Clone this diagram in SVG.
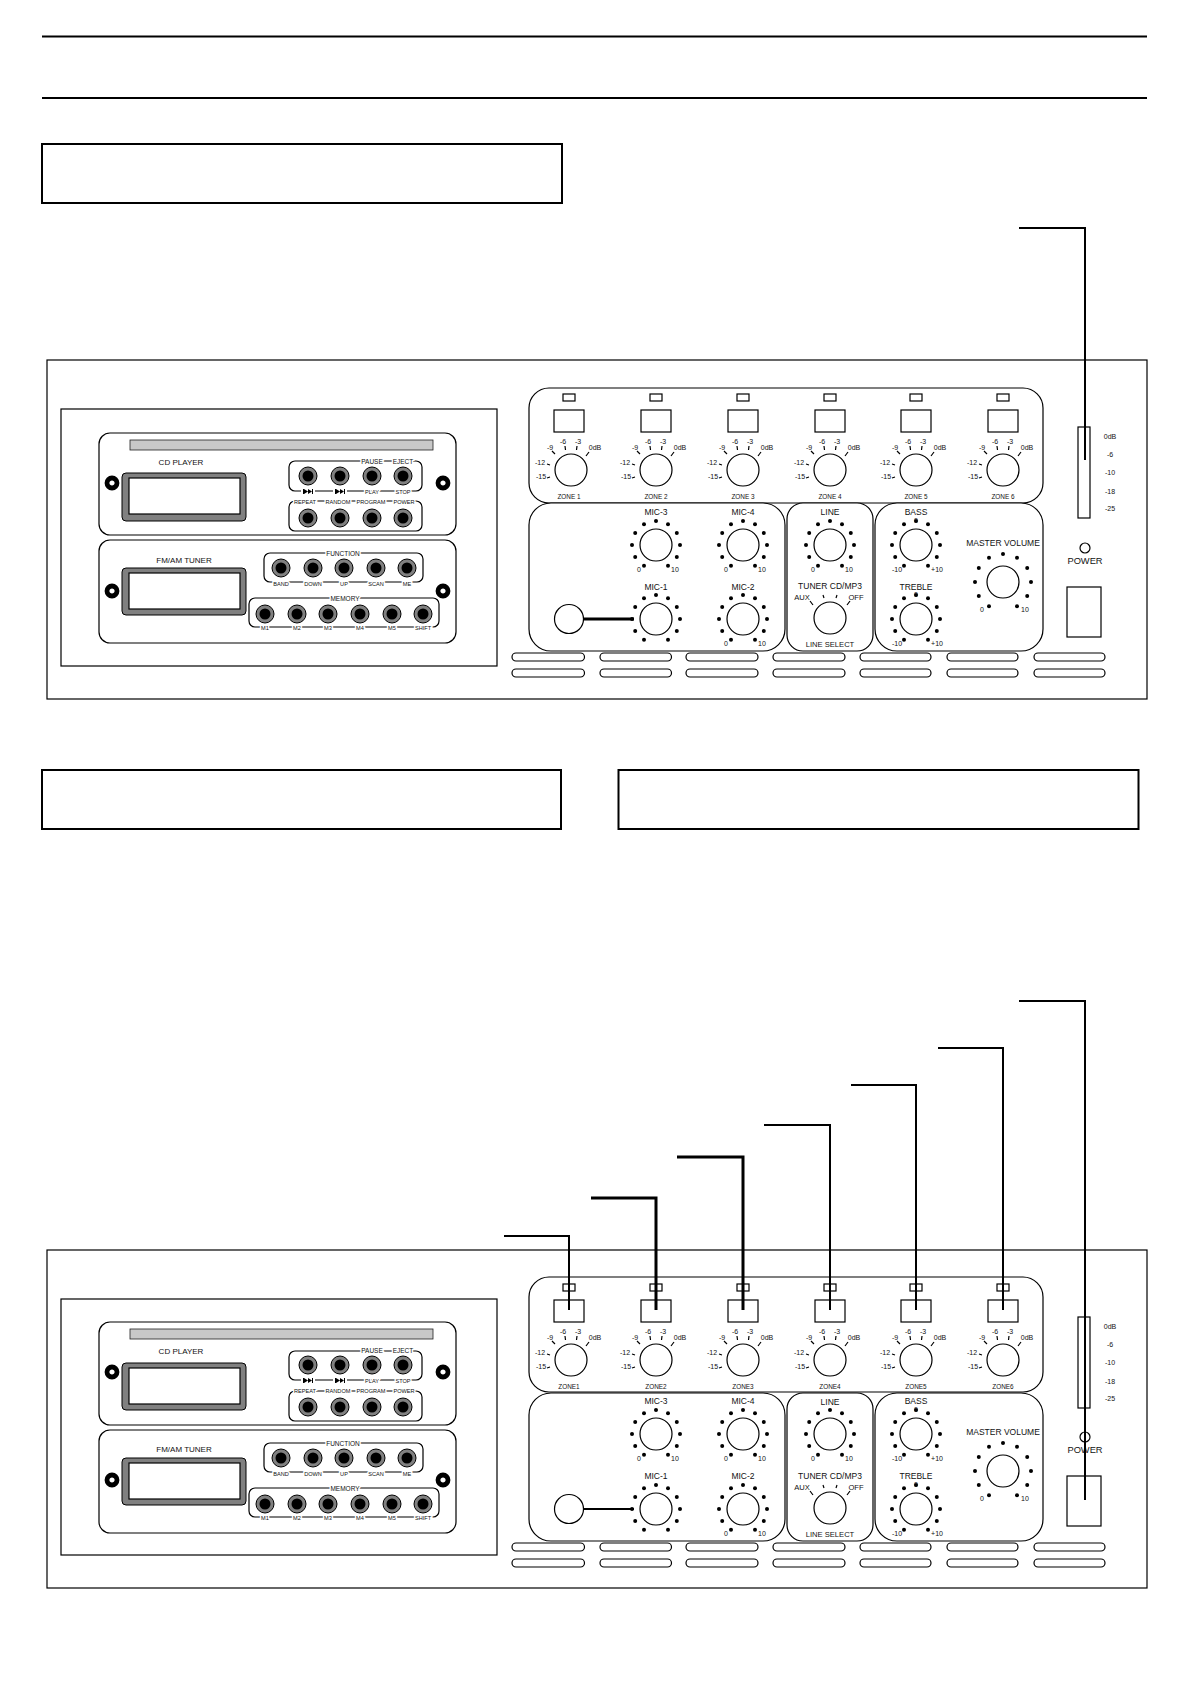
<svg xmlns="http://www.w3.org/2000/svg" width="1191" height="1685" viewBox="0 0 1191 1685">
<style>
text{font-family:"Liberation Sans",Arial,sans-serif;text-anchor:middle;fill:#111}
.o{fill:#fff;stroke:#000;stroke-width:1.2}
.n{fill:none;stroke:#000;stroke-width:1.2}
.b{fill:#fff;stroke:#000;stroke-width:2}
.l{fill:none;stroke:#000;stroke-width:2}
.th{fill:none;stroke:#000;stroke-width:3}
.z{font-size:6.4px}
.m{font-size:8.5px}
.ls{font-size:7.6px}
.s{font-size:7px}
.g{font-size:5.6px;paint-order:stroke;stroke:#fff;stroke-width:3px}
.gb{font-size:6.5px;paint-order:stroke;stroke:#fff;stroke-width:3px}
</style>
<defs>
<g id="k"><circle class="o" r="16"/></g>
<g id="zk"><circle class="o" r="16"/><path class="n" d="M-24 8l3-1M-24-6l3 1M-19-19l3 3M-6-24l.5 4M6-24l-.5 4M18-18l-3 4"/></g>
<g id="r24"><circle cx="-12" cy="20.8" r="2"/><circle cx="-20.8" cy="12" r="2"/><circle cx="-24" r="2"/><circle cx="-20.8" cy="-12" r="2"/><circle cx="-12" cy="-20.8" r="2"/><circle cy="-24" r="2"/><circle cx="12" cy="-20.8" r="2"/><circle cx="20.8" cy="-12" r="2"/><circle cx="24" r="2"/><circle cx="20.8" cy="12" r="2"/><circle cx="12" cy="20.8" r="2"/></g>
<g id="r28"><circle cx="-14" cy="24.2" r="2"/><circle cx="-24.2" cy="14" r="2"/><circle cx="-28" r="2"/><circle cx="-24.2" cy="-14" r="2"/><circle cx="-14" cy="-24.2" r="2"/><circle cy="-28" r="2"/><circle cx="14" cy="-24.2" r="2"/><circle cx="24.2" cy="-14" r="2"/><circle cx="28" r="2"/><circle cx="24.2" cy="14" r="2"/><circle cx="14" cy="24.2" r="2"/></g>
<g id="btn"><circle r="9" fill="#808080" stroke="#000"/><circle r="5.5" fill="#000"/></g>
<g id="scr"><circle r="5" fill="#fff" stroke="#000" stroke-width="4.800"/></g>
<g id="skip"><path d="M-5-2.500h1v5h-1zM-4-2.500l4 2.500-4 2.500zM0-2.500l4 2.500-4 2.500zM4-2.500h1v5h-1z"/></g>
<g id="vents"><rect class="o" x="512" y="653" width="72.5" height="8" rx="4"/><rect class="o" x="600" y="653" width="71.5" height="8" rx="4"/><rect class="o" x="686" y="653" width="72" height="8" rx="4"/><rect class="o" x="773" y="653" width="72" height="8" rx="4"/><rect class="o" x="860" y="653" width="71" height="8" rx="4"/><rect class="o" x="947" y="653" width="71" height="8" rx="4"/><rect class="o" x="1034" y="653" width="71" height="8" rx="4"/><rect class="o" x="512" y="669" width="72.5" height="8" rx="4"/><rect class="o" x="600" y="669" width="71.5" height="8" rx="4"/><rect class="o" x="686" y="669" width="72" height="8" rx="4"/><rect class="o" x="773" y="669" width="72" height="8" rx="4"/><rect class="o" x="860" y="669" width="71" height="8" rx="4"/><rect class="o" x="947" y="669" width="71" height="8" rx="4"/><rect class="o" x="1034" y="669" width="71" height="8" rx="4"/></g>
</defs>

<g id="rules"><path class="l" d="M42 36.500H1147M42 98H1147"/></g>
<g id="box1"><rect class="b" x="42" y="144" width="520" height="59"/></g>
<g id="box2"><rect class="b" x="42" y="770" width="519" height="59"/></g>
<g id="box3"><rect class="b" x="618.500" y="770" width="520" height="59"/></g>

<g id="panel-top">
<rect class="o" x="47" y="360" width="1100" height="339"/>
<rect class="o" x="61" y="409" width="436" height="257"/>
<g id="cd-player">
<rect class="o" x="99" y="433" width="357" height="102" rx="11"/>
<rect x="130" y="440" width="303" height="10" fill="#c8c8c8" stroke="#222" stroke-width=".8"/>
<text x="181" y="465" font-size="8">CD PLAYER</text>
<rect x="122" y="473" width="124" height="48" rx="4" fill="#808080" stroke="#000"/><rect class="o" x="129" y="478" width="111" height="36"/>
<use href="#scr" x="112" y="483"/><use href="#scr" x="443" y="483"/>
<rect class="n" x="289" y="461" width="133" height="30" rx="6"/>
<rect class="n" x="289" y="501" width="133" height="30" rx="6"/>
<use href="#btn" x="308" y="476"/><use href="#btn" x="340" y="476"/><use href="#btn" x="372" y="476"/><use href="#btn" x="403" y="476"/>
<use href="#btn" x="308" y="518"/><use href="#btn" x="340" y="518"/><use href="#btn" x="372" y="518"/><use href="#btn" x="403" y="518"/>
<text class="gb" x="372" y="464">PAUSE</text><text class="gb" x="403" y="464">EJECT</text>
<rect x="301" y="489" width="14" height="5" fill="#fff"/><rect x="333" y="489" width="14" height="5" fill="#fff"/>
<use href="#skip" x="308" y="491.500"/><use href="#skip" x="340" y="491.500"/>
<text class="g" x="372" y="494">PLAY</text><text class="g" x="403" y="494">STOP</text>
<text class="g" x="305" y="503.500">REPEAT</text><text class="g" x="338" y="503.500">RANDOM</text><text class="g" x="371" y="503.500">PROGRAM</text><text class="g" x="404" y="503.500">POWER</text>
</g>
<g id="tuner">
<rect class="o" x="99" y="540" width="357" height="103" rx="11"/>
<text x="184" y="563" font-size="8">FM/AM TUNER</text>
<rect x="122" y="568" width="124" height="47" rx="4" fill="#808080" stroke="#000"/><rect class="o" x="129" y="573" width="111" height="36"/>
<use href="#scr" x="112" y="591"/><use href="#scr" x="443" y="591"/>
<rect class="n" x="264" y="553" width="159" height="29" rx="6"/>
<rect class="n" x="249" y="598" width="190" height="29" rx="6"/>
<use href="#btn" x="281" y="568"/><use href="#btn" x="313" y="568"/><use href="#btn" x="344" y="568"/><use href="#btn" x="376" y="568"/><use href="#btn" x="407" y="568"/>
<use href="#btn" x="265" y="614"/><use href="#btn" x="297" y="614"/><use href="#btn" x="328" y="614"/><use href="#btn" x="360" y="614"/><use href="#btn" x="392" y="614"/><use href="#btn" x="423" y="614"/>
<text class="gb" x="343" y="556">FUNCTION</text>
<text class="g" x="281" y="586">BAND</text><text class="g" x="313" y="586">DOWN</text><text class="g" x="344" y="586">UP</text><text class="g" x="376" y="586">SCAN</text><text class="g" x="407" y="586">ME</text>
<text class="gb" x="345" y="601">MEMORY</text>
<text class="g" x="265" y="630">M1</text><text class="g" x="297" y="630">M2</text><text class="g" x="328" y="630">M3</text><text class="g" x="360" y="630">M4</text><text class="g" x="392" y="630">M5</text><text class="g" x="423" y="630">SHIFT</text>
</g>
<g id="zones">
<rect class="o" x="529" y="388" width="514" height="115" rx="20"/>
<g id="zone1" transform="translate(569 0)"><rect class="o" x="-6" y="394" width="12" height="7"/><rect class="o" x="-15" y="410" width="30" height="22"/><use href="#zk" x="2" y="470"/><text class="s" x="-28" y="479">-15</text><text class="s" x="-29" y="465">-12</text><text class="s" x="-19" y="450">-9</text><text class="s" x="-6" y="444">-6</text><text class="s" x="9" y="444">-3</text><text class="s" x="26" y="450">0dB</text><text class="z" y="499">ZONE 1</text></g>
<g id="zone2" transform="translate(656 0)"><rect class="o" x="-6" y="394" width="12" height="7"/><rect class="o" x="-15" y="410" width="30" height="22"/><use href="#zk" y="470"/><text class="s" x="-30" y="479">-15</text><text class="s" x="-31" y="465">-12</text><text class="s" x="-21" y="450">-9</text><text class="s" x="-8" y="444">-6</text><text class="s" x="7" y="444">-3</text><text class="s" x="24" y="450">0dB</text><text class="z" y="499">ZONE 2</text></g>
<g id="zone3" transform="translate(743 0)"><rect class="o" x="-6" y="394" width="12" height="7"/><rect class="o" x="-15" y="410" width="30" height="22"/><use href="#zk" y="470"/><text class="s" x="-30" y="479">-15</text><text class="s" x="-31" y="465">-12</text><text class="s" x="-21" y="450">-9</text><text class="s" x="-8" y="444">-6</text><text class="s" x="7" y="444">-3</text><text class="s" x="24" y="450">0dB</text><text class="z" y="499">ZONE 3</text></g>
<g id="zone4" transform="translate(830 0)"><rect class="o" x="-6" y="394" width="12" height="7"/><rect class="o" x="-15" y="410" width="30" height="22"/><use href="#zk" y="470"/><text class="s" x="-30" y="479">-15</text><text class="s" x="-31" y="465">-12</text><text class="s" x="-21" y="450">-9</text><text class="s" x="-8" y="444">-6</text><text class="s" x="7" y="444">-3</text><text class="s" x="24" y="450">0dB</text><text class="z" y="499">ZONE 4</text></g>
<g id="zone5" transform="translate(916 0)"><rect class="o" x="-6" y="394" width="12" height="7"/><rect class="o" x="-15" y="410" width="30" height="22"/><use href="#zk" y="470"/><text class="s" x="-30" y="479">-15</text><text class="s" x="-31" y="465">-12</text><text class="s" x="-21" y="450">-9</text><text class="s" x="-8" y="444">-6</text><text class="s" x="7" y="444">-3</text><text class="s" x="24" y="450">0dB</text><text class="z" y="499">ZONE 5</text></g>
<g id="zone6" transform="translate(1003 0)"><rect class="o" x="-6" y="394" width="12" height="7"/><rect class="o" x="-15" y="410" width="30" height="22"/><use href="#zk" y="470"/><text class="s" x="-30" y="479">-15</text><text class="s" x="-31" y="465">-12</text><text class="s" x="-21" y="450">-9</text><text class="s" x="-8" y="444">-6</text><text class="s" x="7" y="444">-3</text><text class="s" x="24" y="450">0dB</text><text class="z" y="499">ZONE 6</text></g>
</g>
<g id="mic">
<rect class="o" x="529" y="503" width="256" height="148" rx="22"/>
<use href="#k" x="656" y="545"/><use href="#r24" x="656" y="545"/><text class="m" x="656" y="515">MIC-3</text><text class="s" x="639" y="572">0</text><text class="s" x="675" y="572">10</text>
<use href="#k" x="743" y="545"/><use href="#r24" x="743" y="545"/><text class="m" x="743" y="515">MIC-4</text><text class="s" x="726" y="572">0</text><text class="s" x="762" y="572">10</text>
<use href="#k" x="656" y="619"/><use href="#r24" x="656" y="619"/><text class="m" x="656" y="590">MIC-1</text>
<use href="#k" x="743" y="619"/><use href="#r24" x="743" y="619"/><text class="m" x="743" y="590">MIC-2</text><text class="s" x="726" y="646">0</text><text class="s" x="762" y="646">10</text>
<circle class="o" cx="569" cy="619" r="14.500"/>
</g>
<g id="line">
<rect class="o" x="787" y="503" width="86" height="148" rx="16"/>
<use href="#k" x="830" y="545"/><use href="#r24" x="830" y="545"/><text class="m" x="830" y="515">LINE</text><text class="s" x="813" y="572">0</text><text class="s" x="849" y="572">10</text>
<use href="#k" x="830" y="618"/><text class="m" x="830" y="589">TUNER  CD/MP3</text><text class="ls" x="802" y="600">AUX</text><text class="ls" x="856" y="600">OFF</text><path class="n" d="M813 605l-3-4M824 598l-1-3M836 598l1-3M847 605l3-4"/><text class="ls" x="830" y="647">LINE SELECT</text>
</g>
<g id="tone">
<rect class="o" x="875" y="503" width="168" height="148" rx="22"/>
<use href="#k" x="916" y="545"/><use href="#r24" x="916" y="545"/><text class="m" x="916" y="515">BASS</text><text class="s" x="916" y="523">0</text><text class="s" x="897" y="572">-10</text><text class="s" x="937" y="572">+10</text>
<use href="#k" x="916" y="619"/><use href="#r24" x="916" y="619"/><text class="m" x="916" y="590">TREBLE</text><text class="s" x="916" y="597">0</text><text class="s" x="897" y="646">-10</text><text class="s" x="937" y="646">+10</text>
<use href="#k" x="1003" y="582"/><use href="#r28" x="1003" y="582"/><text class="m" x="1003" y="546">MASTER VOLUME</text><text class="s" x="982" y="612">0</text><text class="s" x="1025" y="612">10</text>
</g>
<g id="fader"><rect class="o" x="1078" y="427" width="12" height="91"/><text class="s" x="1110" y="439">0dB</text><text class="s" x="1110" y="457">-6</text><text class="s" x="1110" y="475">-10</text><text class="s" x="1110" y="494">-18</text><text class="s" x="1110" y="511">-25</text></g>
<g id="power"><circle class="o" cx="1085" cy="548" r="5"/><text x="1085" y="564" font-size="9.300">POWER</text><rect class="o" x="1067" y="587" width="34" height="50"/></g>
<use href="#vents"/>
</g>

<g id="panel-bottom" transform="translate(0 890)">
<rect class="o" x="47" y="360" width="1100" height="338"/>
<rect class="o" x="61" y="409" width="436" height="256"/>
<g id="cd-player2">
<rect class="o" x="99" y="432" width="357" height="103" rx="11"/>
<rect x="130" y="439" width="303" height="10" fill="#c8c8c8" stroke="#222" stroke-width=".8"/>
<text x="181" y="464" font-size="8">CD PLAYER</text>
<rect x="122" y="473" width="124" height="47" rx="4" fill="#808080" stroke="#000"/><rect class="o" x="129" y="478" width="111" height="36"/>
<use href="#scr" x="112" y="482"/><use href="#scr" x="443" y="482"/>
<rect class="n" x="289" y="461" width="133" height="29" rx="6"/>
<rect class="n" x="289" y="501" width="133" height="30" rx="6"/>
<use href="#btn" x="308" y="475"/><use href="#btn" x="340" y="475"/><use href="#btn" x="372" y="475"/><use href="#btn" x="403" y="475"/>
<use href="#btn" x="308" y="517"/><use href="#btn" x="340" y="517"/><use href="#btn" x="372" y="517"/><use href="#btn" x="403" y="517"/>
<text class="gb" x="372" y="463">PAUSE</text><text class="gb" x="403" y="463">EJECT</text>
<rect x="301" y="488" width="14" height="5" fill="#fff"/><rect x="333" y="488" width="14" height="5" fill="#fff"/>
<use href="#skip" x="308" y="490.500"/><use href="#skip" x="340" y="490.500"/>
<text class="g" x="372" y="493">PLAY</text><text class="g" x="403" y="493">STOP</text>
<text class="g" x="305" y="503">REPEAT</text><text class="g" x="338" y="503">RANDOM</text><text class="g" x="371" y="503">PROGRAM</text><text class="g" x="404" y="503">POWER</text>
</g>
<g id="tuner2">
<rect class="o" x="99" y="540" width="357" height="103" rx="11"/>
<text x="184" y="562" font-size="8">FM/AM TUNER</text>
<rect x="122" y="568" width="124" height="47" rx="4" fill="#808080" stroke="#000"/><rect class="o" x="129" y="573" width="111" height="36"/>
<use href="#scr" x="112" y="590"/><use href="#scr" x="443" y="590"/>
<rect class="n" x="264" y="553" width="159" height="29" rx="6"/>
<rect class="n" x="249" y="598" width="190" height="29" rx="6"/>
<use href="#btn" x="281" y="568"/><use href="#btn" x="313" y="568"/><use href="#btn" x="344" y="568"/><use href="#btn" x="376" y="568"/><use href="#btn" x="407" y="568"/>
<use href="#btn" x="265" y="614"/><use href="#btn" x="297" y="614"/><use href="#btn" x="328" y="614"/><use href="#btn" x="360" y="614"/><use href="#btn" x="392" y="614"/><use href="#btn" x="423" y="614"/>
<text class="gb" x="343" y="556">FUNCTION</text>
<text class="g" x="281" y="586">BAND</text><text class="g" x="313" y="586">DOWN</text><text class="g" x="344" y="586">UP</text><text class="g" x="376" y="586">SCAN</text><text class="g" x="407" y="586">ME</text>
<text class="gb" x="345" y="601">MEMORY</text>
<text class="g" x="265" y="630">M1</text><text class="g" x="297" y="630">M2</text><text class="g" x="328" y="630">M3</text><text class="g" x="360" y="630">M4</text><text class="g" x="392" y="630">M5</text><text class="g" x="423" y="630">SHIFT</text>
</g>
<g id="zones2">
<rect class="o" x="529" y="387" width="514" height="115" rx="20"/>
<g id="zone1b" transform="translate(569 0)"><rect class="o" x="-6" y="394" width="12" height="7"/><rect class="o" x="-15" y="410" width="30" height="22"/><use href="#zk" x="2" y="470"/><text class="s" x="-28" y="479">-15</text><text class="s" x="-29" y="465">-12</text><text class="s" x="-19" y="450">-9</text><text class="s" x="-6" y="444">-6</text><text class="s" x="9" y="444">-3</text><text class="s" x="26" y="450">0dB</text><text class="z" y="499">ZONE1</text></g>
<g id="zone2b" transform="translate(656 0)"><rect class="o" x="-6" y="394" width="12" height="7"/><rect class="o" x="-15" y="410" width="30" height="22"/><use href="#zk" y="470"/><text class="s" x="-30" y="479">-15</text><text class="s" x="-31" y="465">-12</text><text class="s" x="-21" y="450">-9</text><text class="s" x="-8" y="444">-6</text><text class="s" x="7" y="444">-3</text><text class="s" x="24" y="450">0dB</text><text class="z" y="499">ZONE2</text></g>
<g id="zone3b" transform="translate(743 0)"><rect class="o" x="-6" y="394" width="12" height="7"/><rect class="o" x="-15" y="410" width="30" height="22"/><use href="#zk" y="470"/><text class="s" x="-30" y="479">-15</text><text class="s" x="-31" y="465">-12</text><text class="s" x="-21" y="450">-9</text><text class="s" x="-8" y="444">-6</text><text class="s" x="7" y="444">-3</text><text class="s" x="24" y="450">0dB</text><text class="z" y="499">ZONE3</text></g>
<g id="zone4b" transform="translate(830 0)"><rect class="o" x="-6" y="394" width="12" height="7"/><rect class="o" x="-15" y="410" width="30" height="22"/><use href="#zk" y="470"/><text class="s" x="-30" y="479">-15</text><text class="s" x="-31" y="465">-12</text><text class="s" x="-21" y="450">-9</text><text class="s" x="-8" y="444">-6</text><text class="s" x="7" y="444">-3</text><text class="s" x="24" y="450">0dB</text><text class="z" y="499">ZONE4</text></g>
<g id="zone5b" transform="translate(916 0)"><rect class="o" x="-6" y="394" width="12" height="7"/><rect class="o" x="-15" y="410" width="30" height="22"/><use href="#zk" y="470"/><text class="s" x="-30" y="479">-15</text><text class="s" x="-31" y="465">-12</text><text class="s" x="-21" y="450">-9</text><text class="s" x="-8" y="444">-6</text><text class="s" x="7" y="444">-3</text><text class="s" x="24" y="450">0dB</text><text class="z" y="499">ZONE5</text></g>
<g id="zone6b" transform="translate(1003 0)"><rect class="o" x="-6" y="394" width="12" height="7"/><rect class="o" x="-15" y="410" width="30" height="22"/><use href="#zk" y="470"/><text class="s" x="-30" y="479">-15</text><text class="s" x="-31" y="465">-12</text><text class="s" x="-21" y="450">-9</text><text class="s" x="-8" y="444">-6</text><text class="s" x="7" y="444">-3</text><text class="s" x="24" y="450">0dB</text><text class="z" y="499">ZONE6</text></g>
</g>
<g id="mic2">
<rect class="o" x="529" y="503" width="256" height="148" rx="22"/>
<use href="#k" x="656" y="544"/><use href="#r24" x="656" y="544"/><text class="m" x="656" y="514">MIC-3</text><text class="s" x="639" y="571">0</text><text class="s" x="675" y="571">10</text>
<use href="#k" x="743" y="544"/><use href="#r24" x="743" y="544"/><text class="m" x="743" y="514">MIC-4</text><text class="s" x="726" y="571">0</text><text class="s" x="762" y="571">10</text>
<use href="#k" x="656" y="619"/><use href="#r24" x="656" y="619"/><text class="m" x="656" y="589">MIC-1</text>
<use href="#k" x="743" y="619"/><use href="#r24" x="743" y="619"/><text class="m" x="743" y="589">MIC-2</text><text class="s" x="726" y="646">0</text><text class="s" x="762" y="646">10</text>
<circle class="o" cx="569" cy="619" r="14.500"/>
</g>
<g id="line2">
<rect class="o" x="787" y="503" width="86" height="148" rx="16"/>
<use href="#k" x="830" y="544"/><use href="#r24" x="830" y="544"/><text class="m" x="830" y="515">LINE</text><text class="s" x="813" y="571">0</text><text class="s" x="849" y="571">10</text>
<use href="#k" x="830" y="618"/><text class="m" x="830" y="589">TUNER  CD/MP3</text><text class="ls" x="802" y="600">AUX</text><text class="ls" x="856" y="600">OFF</text><path class="n" d="M813 605l-3-4M824 598l-1-3M836 598l1-3M847 605l3-4"/><text class="ls" x="830" y="647">LINE SELECT</text>
</g>
<g id="tone2">
<rect class="o" x="875" y="503" width="168" height="148" rx="22"/>
<use href="#k" x="916" y="544"/><use href="#r24" x="916" y="544"/><text class="m" x="916" y="514">BASS</text><text class="s" x="916" y="522">0</text><text class="s" x="897" y="571">-10</text><text class="s" x="937" y="571">+10</text>
<use href="#k" x="916" y="619"/><use href="#r24" x="916" y="619"/><text class="m" x="916" y="589">TREBLE</text><text class="s" x="916" y="597">0</text><text class="s" x="897" y="646">-10</text><text class="s" x="937" y="646">+10</text>
<use href="#k" x="1003" y="581"/><use href="#r28" x="1003" y="581"/><text class="m" x="1003" y="545">MASTER VOLUME</text><text class="s" x="982" y="611">0</text><text class="s" x="1025" y="611">10</text>
</g>
<g id="fader2"><rect class="o" x="1078" y="427" width="12" height="91"/><text class="s" x="1110" y="439">0dB</text><text class="s" x="1110" y="457">-6</text><text class="s" x="1110" y="475">-10</text><text class="s" x="1110" y="494">-18</text><text class="s" x="1110" y="511">-25</text></g>
<g id="power2"><circle class="o" cx="1085" cy="547" r="5"/><text x="1085" y="563" font-size="9.300">POWER</text><rect class="o" x="1067" y="586" width="34" height="50"/></g>
<use href="#vents"/>
</g>

<g id="connectors">
<path class="l" d="M1019 228H1085V460"/>
<path class="th" d="M583 619H634"/>
<path class="l" d="M504 1236H569V1310"/>
<path class="th" d="M591 1198H656V1310"/>
<path class="th" d="M677 1157H743V1310"/>
<path class="l" d="M764 1125H830V1310"/>
<path class="l" d="M851 1085H916V1310"/>
<path class="l" d="M938 1048H1003V1310"/>
<path class="l" d="M1019 1001H1085V1500"/>
<path class="l" d="M583 1509H634"/>
</g>
</svg>
